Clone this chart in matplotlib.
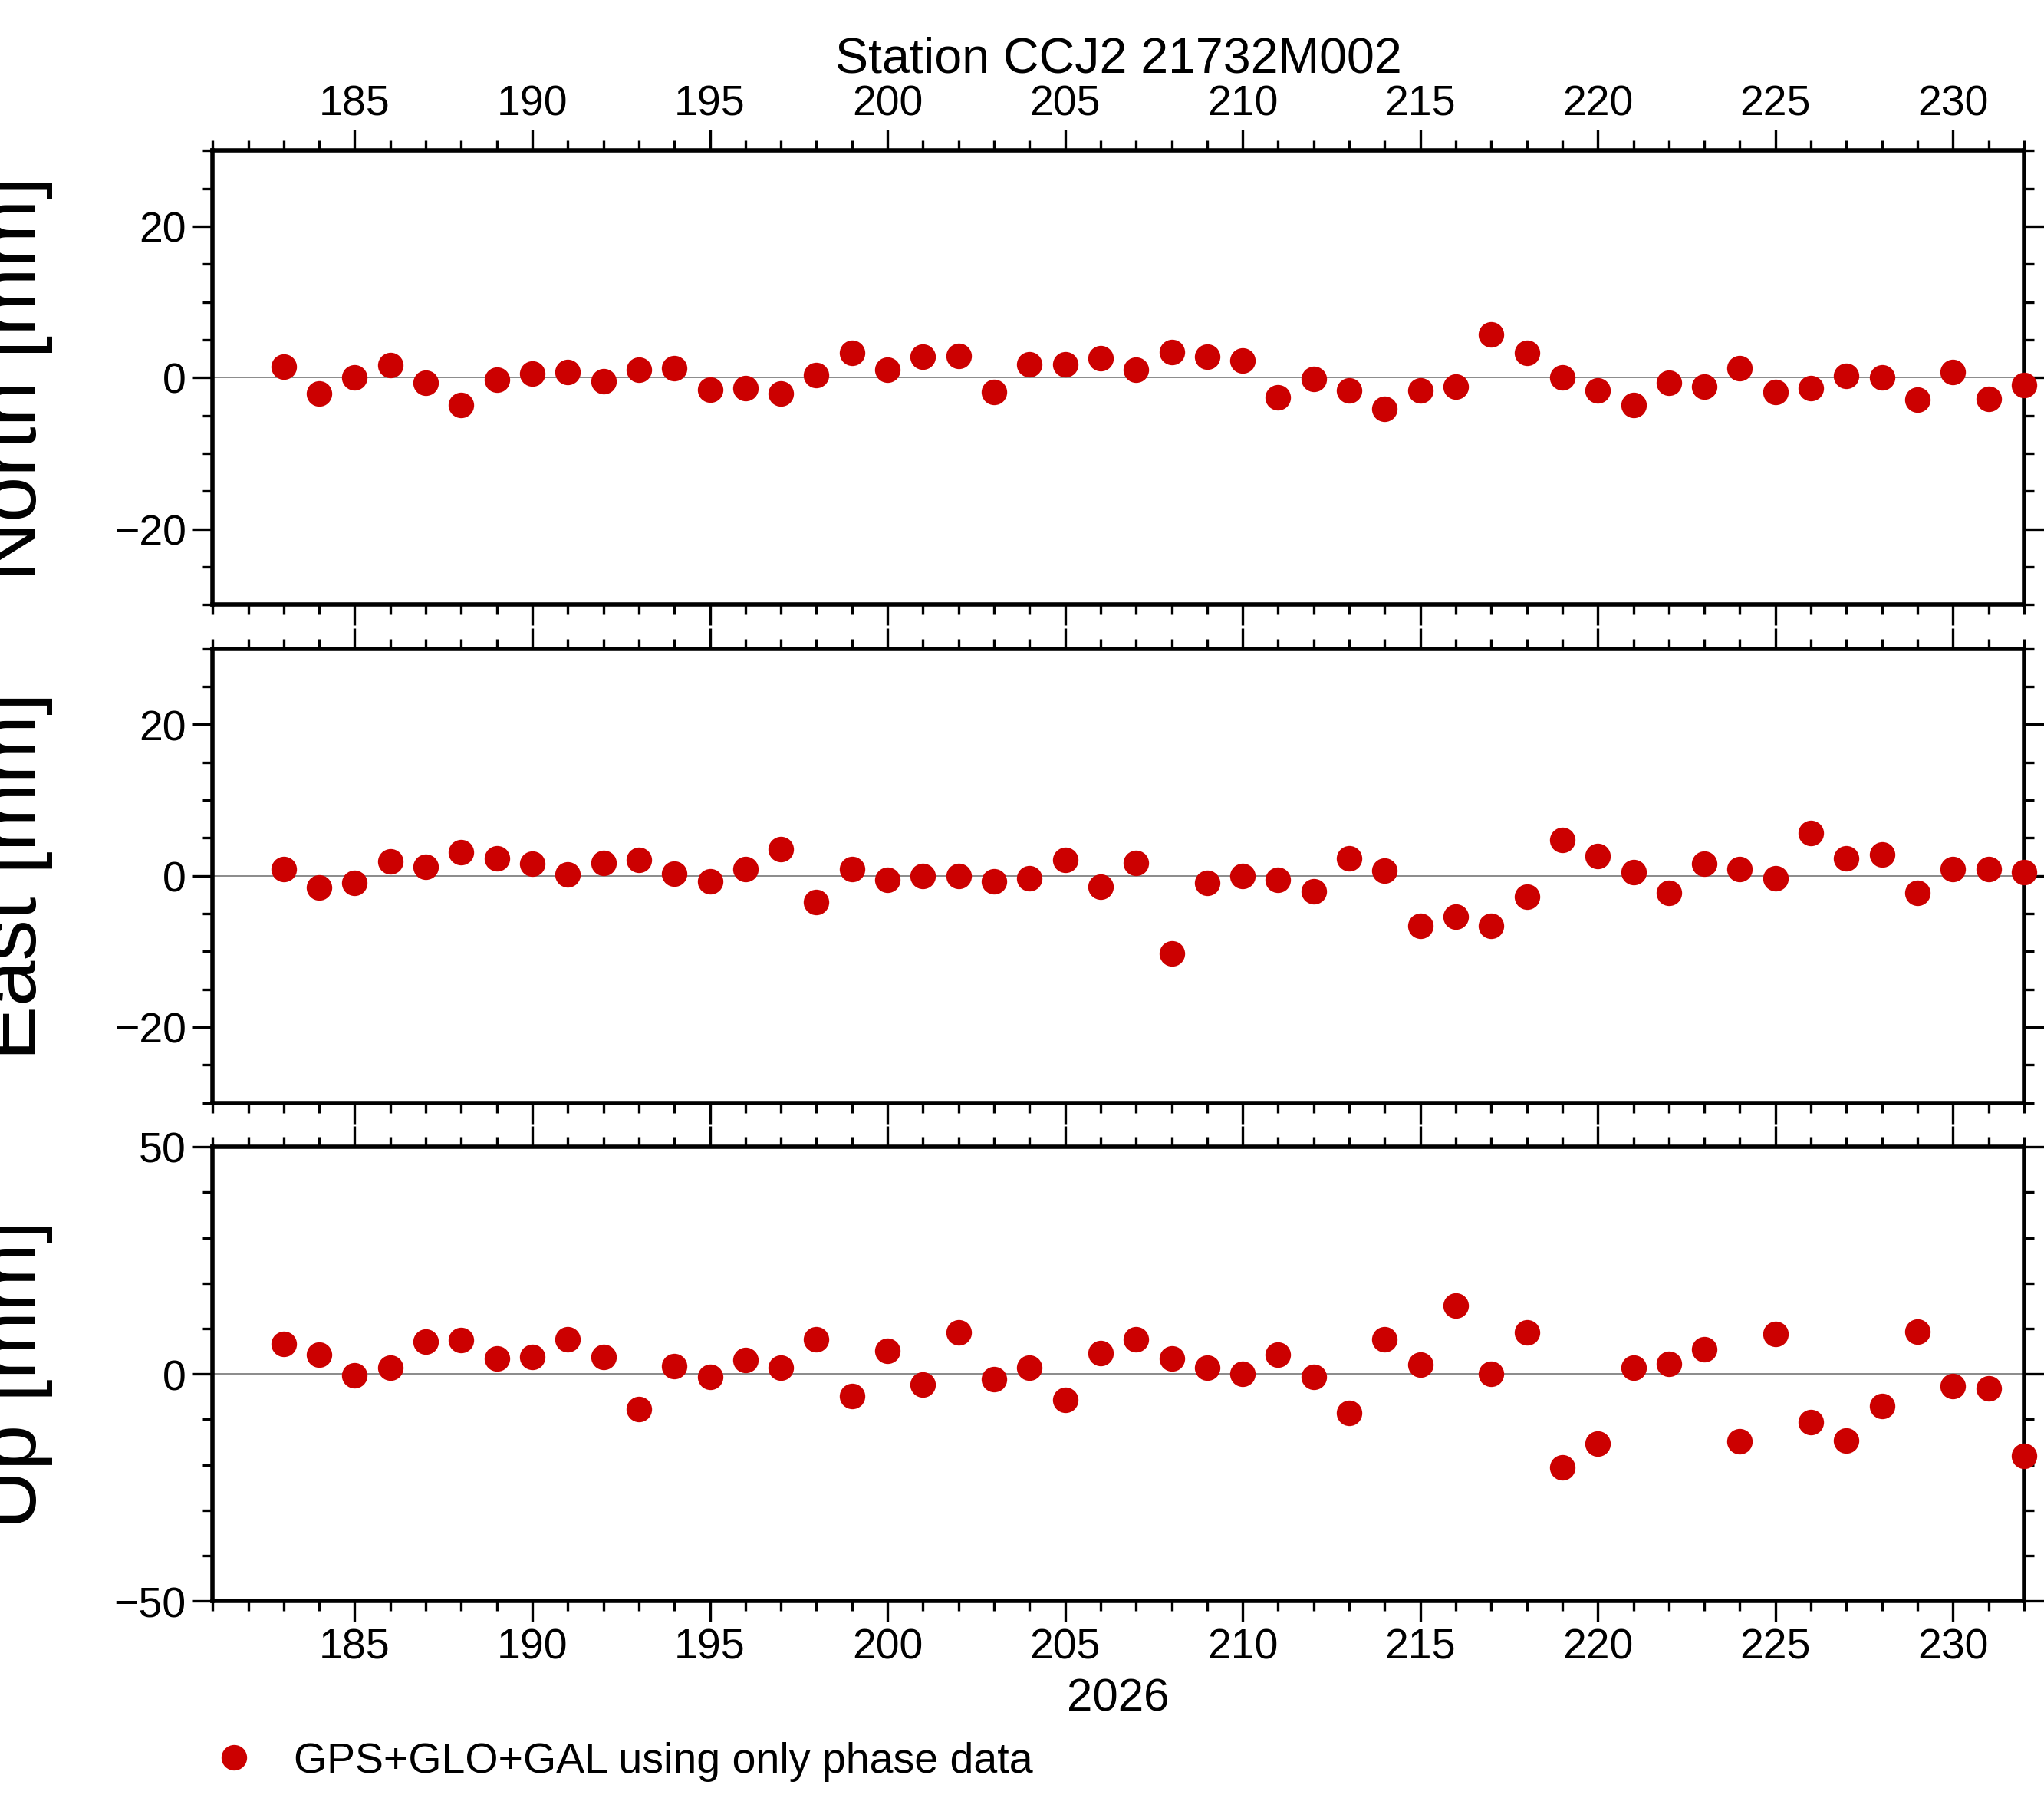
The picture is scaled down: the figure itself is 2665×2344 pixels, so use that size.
"""Daily coordinate residuals for station CCJ2 in three panels."""

import matplotlib
matplotlib.use("Agg")
import matplotlib.pyplot as plt
from matplotlib.ticker import MultipleLocator
from matplotlib.lines import Line2D

plt.rcParams["font.family"] = ["Liberation Sans", "DejaVu Sans"]

days = list(range(183, 233))
north = [1.4, -2.1, 0.0, 1.6, -0.7, -3.6, -0.3, 0.5, 0.7, -0.5,
         1.0, 1.2, -1.6, -1.4, -2.1, 0.3, 3.3, 1.0, 2.8, 2.9,
         -1.9, 1.7, 1.7, 2.6, 1.0, 3.4, 2.8, 2.2, -2.6, -0.2,
         -1.7, -4.1, -1.7, -1.2, 5.7, 3.3, 0.0, -1.7, -3.6, -0.7,
         -1.2, 1.2, -1.9, -1.4, 0.2, 0.0, -2.9, 0.7, -2.8, -1.0]
east = [0.9, -1.6, -0.9, 1.9, 1.2, 3.1, 2.3, 1.6, 0.2, 1.7,
        2.1, 0.3, -0.7, 0.9, 3.5, -3.5, 0.9, -0.5, 0.0, 0.0,
        -0.7, -0.3, 2.1, -1.4, 1.7, -10.3, -0.9, 0.0, -0.5, -2.1,
        2.3, 0.7, -6.6, -5.4, -6.6, -2.8, 4.7, 2.6, 0.5, -2.3,
        1.6, 0.9, -0.3, 5.6, 2.3, 2.8, -2.3, 0.9, 0.9, 0.5]
up = [6.6, 4.3, -0.3, 1.4, 7.1, 7.4, 3.4, 3.7, 7.7, 3.7,
      -7.7, 1.7, -0.6, 3.1, 1.4, 7.7, -4.9, 5.1, -2.3, 9.1,
      -1.1, 1.4, -5.7, 4.6, 7.7, 3.4, 1.4, 0.0, 4.3, -0.6,
      -8.6, 7.7, 2.0, 15.1, 0.0, 9.1, -20.6, -15.4, 1.4, 2.3,
      5.4, -14.9, 8.9, -10.6, -14.6, -7.1, 9.4, -2.6, -3.1, -18.0]

panels = [("North [mm]", north, 30, 20, 5),
          ("East [mm]", east, 30, 20, 5),
          ("Up [mm]", up, 50, 50, 10)]
red = "#cc0000"

fig = plt.figure(figsize=(16.66, 14.655), dpi=160)
bottoms = [0.6635, 0.3865, 0.1095]
for i, ((label, vals, lim, major, minor), b) in enumerate(zip(panels, bottoms)):
    ax = fig.add_axes([0.104, b, 0.886, 0.2525])
    ax.axhline(0, color="gray", lw=0.8, zorder=1)
    ax.plot(days, vals, "o", color=red, ms=15, mec="none", zorder=3, clip_on=False)
    ax.set_xlim(181, 232)
    ax.set_ylim(-lim, lim)
    ax.xaxis.set_major_locator(MultipleLocator(5))
    ax.xaxis.set_minor_locator(MultipleLocator(1))
    ax.yaxis.set_major_locator(MultipleLocator(major))
    ax.yaxis.set_minor_locator(MultipleLocator(minor))
    ax.tick_params(which="both", direction="out", top=True, right=True,
                   width=1.5, labelsize=25,
                   labeltop=(i == 0), labelbottom=(i == 2))
    ax.tick_params(which="major", length=12)
    ax.tick_params(which="minor", length=6)
    for s in ax.spines.values():
        s.set_linewidth(2.5)
    ax.set_ylabel(label, fontsize=48, labelpad=2)
    ax.yaxis.set_label_coords(-0.088, 0.5)
    if i == 0:
        ax.set_title("Station CCJ2 21732M002", fontsize=29, pad=46)
    if i == 2:
        ax.set_xlabel("2026", fontsize=27, labelpad=6)

handle = Line2D([], [], ls="none", marker="o", color=red, ms=15, mec="none")
fig.legend([handle], ["GPS+GLO+GAL using only phase data"], loc="lower left",
           bbox_to_anchor=(0.075, -0.012), frameon=False, fontsize=25,
           handletextpad=0.4)

fig.savefig("out.png", dpi=160)
